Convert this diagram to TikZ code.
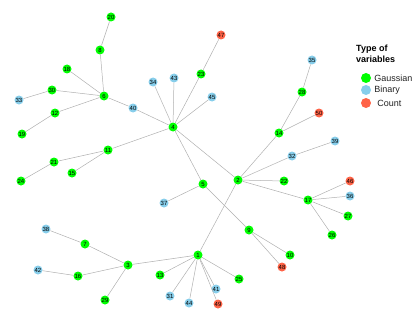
\documentclass[tikz,border=0pt]{standalone}
\usepackage{fontspec}
\setmainfont{Liberation Sans}
\usepackage{xcolor}
\definecolor{gaussc}{HTML}{00FF00}
\definecolor{binc}{HTML}{87CEEB}
\definecolor{countc}{HTML}{FF6347}
\definecolor{edgec}{HTML}{B0B0B0}
\definecolor{legc}{HTML}{222222}
\usepackage{tikz}
\usetikzlibrary{positioning}
\tikzset{
  var/.style={circle,minimum size=9pt,inner sep=0pt,font=\fontsize{6}{6}\selectfont,text=black},
  gvar/.style={var,fill=gaussc},
  bvar/.style={var,fill=binc},
  cvar/.style={var,fill=countc},
  link/.style={draw=edgec,line width=0.5pt},
  legdot/.style={circle,minimum size=10pt,inner sep=0pt},
  legtxt/.style={font=\fontsize{9}{10}\selectfont,text=legc,inner sep=1pt,anchor=west},
}
\begin{document}
\begin{tikzpicture}[x=1pt,y=-1pt]
  \useasboundingbox (0,0) rectangle (415,321);
  % Gaussian
  \foreach \n/\x/\y in {20/111/17,8/100/50,18/67/69,30/52/90,6/104/96,12/55/113,19/22/134,
      23/201/74,4/173/127,11/108/150,21/54/162,24/21/181,15/72/173,5/203/184,7/85/244,
      3/128/265,16/78/276,29/105/300,13/160/275,1/198/255,2/238/180,22/284/181,17/308/200,
      27/348/216,26/332/235,9/249/230,10/290/255,25/239/279,14/279/133,28/302/92}
    \node[gvar] (v\n) at (\x,\y) {\n};
  % Binary
  \foreach \n/\x/\y in {33/19/100,40/133/108,34/153/82,43/174/78,45/212/97,37/164/203,
      38/46/229,42/38/270,31/170/296,44/189/303,41/216/289,35/312/60,39/335/141,
      32/292/156,36/350/196}
    \node[bvar] (v\n) at (\x,\y) {\n};
  % Count
  \foreach \n/\x/\y in {47/221/35,50/319/113,46/350/181,48/282/267,49/218/304}
    \node[cvar] (v\n) at (\x,\y) {\n};
  % edges
  \foreach \a/\b in {20/8,8/6,18/6,30/6,33/30,12/6,19/12,6/40,40/4,34/4,43/4,23/4,47/23,
      45/4,4/11,11/21,21/24,11/15,4/5,4/2,5/37,5/9,9/10,9/48,2/1,2/32,32/39,2/14,14/28,
      28/35,14/50,2/22,2/17,17/46,17/36,17/27,17/26,1/3,3/7,7/38,3/16,16/42,3/29,1/13,
      1/31,1/44,1/41,1/49,1/25}
    \draw[link] (v\a) -- (v\b);
  % legend
  \node[font=\fontsize{9}{11}\selectfont\bfseries,text=black,align=left,anchor=west,inner sep=0pt]
    (legtitle) at (356,53.5) {Type of\\variables};
  \node[legdot,fill=gaussc] (lg) at (366,78) {};
  \node[legdot,fill=binc] (lb) at (366,90) {};
  \node[legdot,fill=countc] (lc) at (366,103) {};
  \node[legtxt,right=2pt of lg] {Gaussian};
  \node[legtxt,right=2pt of lb] {Binary};
  \node[legtxt,right=5pt of lc] {Count};
\end{tikzpicture}
\end{document}
